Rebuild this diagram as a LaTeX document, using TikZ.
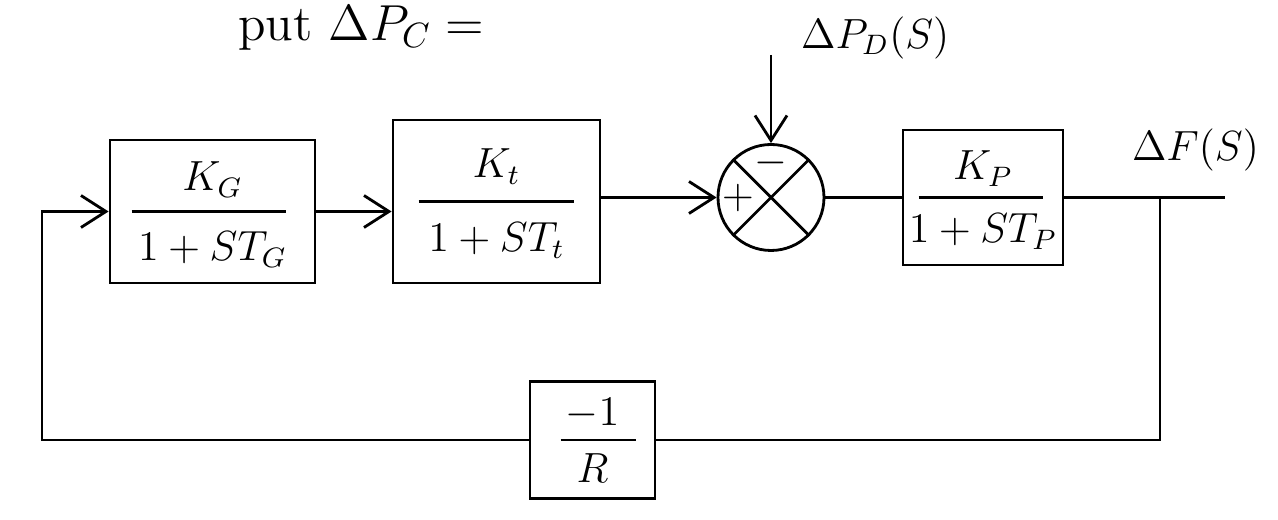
\documentclass[tikz,border=0pt]{standalone}
\usetikzlibrary{arrows.meta}
\begin{document}
\begin{tikzpicture}[thick, >={Straight Barb[length=2.5mm,width=3.2mm]},
  every node/.style={font=\large}, blk/.style={draw, rectangle, inner sep=0pt}]
  \useasboundingbox (0,0) rectangle (12.78,5.20);
  \coordinate (fb) at (0.42,3.085);
  \coordinate (dist) at (7.71,4.65);
  \coordinate (br) at (11.60,3.225);
  \coordinate (out) at (12.25,3.225);
  \node[anchor=west, font=\Large] (note) at (2.25,4.92) {put $\Delta P_C =$};
  % blocks
  \node[blk, minimum width=2.05cm, minimum height=1.43cm] (G) at (2.125,3.085) {};
  \node[blk, minimum width=2.07cm, minimum height=1.63cm] (T) at (4.965,3.185) {};
  \node[blk, minimum width=1.60cm, minimum height=1.35cm] (P) at (9.83,3.225) {};
  \node[blk, minimum width=1.25cm, minimum height=1.17cm] (R) at (5.925,0.80) {};
  \node[draw, circle, minimum size=1.06cm, inner sep=0pt] (S) at (7.71,3.225) {};
  \draw (S.45)--(S.225) (S.135)--(S.315);
  % fractions
  \node (Gnum) at ([yshift=3.2mm]G.center) {$K_G$};
  \node (Gden) at ([yshift=-3.8mm]G.center) {$1+ST_G$};
  \draw ([xshift=2.3mm]G.west)--([xshift=-3mm]G.east);
  \node (Tnum) at ([yshift=3.5mm]T.center) {$K_t$};
  \node (Tden) at ([yshift=-3.9mm]T.center) {$1+ST_t$};
  \draw ([xshift=2.7mm]T.west)--([xshift=-2.7mm]T.east);
  \node (Pnum) at ([yshift=2.9mm]P.center) {$K_P$};
  \node (Pden) at ([yshift=-3.4mm]P.center) {$1+ST_P$};
  \draw ([xshift=1.7mm]P.west)--([xshift=-2.1mm]P.east);
  \node (Rnum) at ([yshift=2.6mm]R.center) {$-1$};
  \node (Rden) at ([yshift=-2.8mm]R.center) {$R$};
  \draw ([xshift=3.2mm]R.west)--([xshift=-2mm]R.east);
  \node (plus) at ([xshift=-3.3mm]S.center) {$+$};
  \node (minus) at ([yshift=3.5mm]S.center) {$-$};
  % signals
  \draw[->] (G.east)--(G.east-|T.west);
  \draw[->] (T.east|-S.west)--(S.west);
  \draw (S)--(P);
  \draw[->] (dist)--(S);
  \draw (P)--(out);
  \draw (br) |- (R);
  \draw[->] (R) -| (fb) -- (G);
  \node[anchor=west] (PD) at (7.88,4.82) {$\Delta P_D(S)$};
  \node[anchor=east] (F) at (12.72,3.70) {$\Delta F(S)$};
\end{tikzpicture}
\end{document}
